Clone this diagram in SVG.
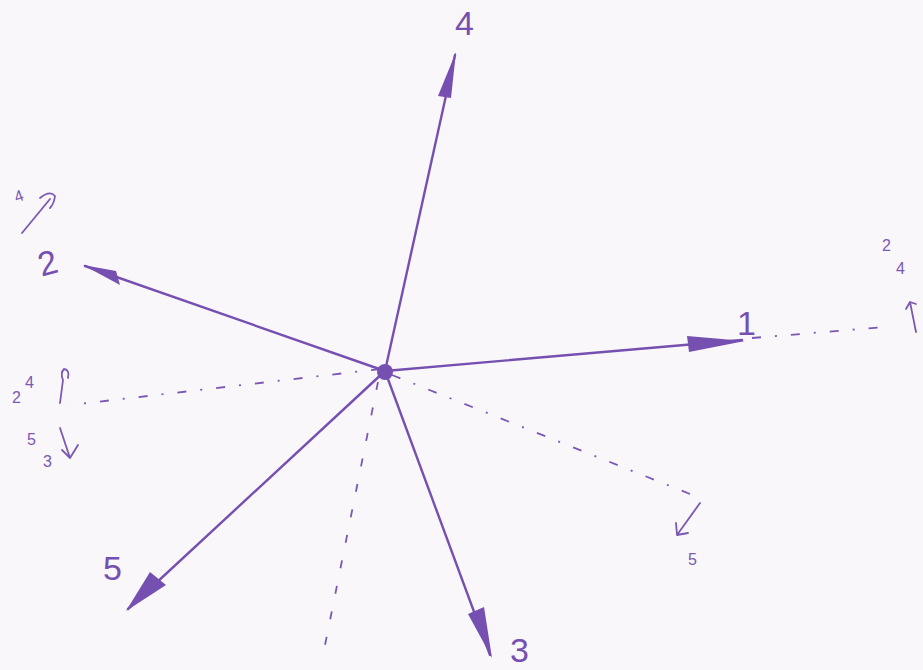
<svg xmlns="http://www.w3.org/2000/svg" width="923" height="670" viewBox="0 0 923 670">
<style>
.ln{stroke:#7650b0;stroke-width:2.4;fill:none;stroke-linecap:round}
.dash{stroke:#7a58b4;stroke-width:1.8;fill:none;stroke-dasharray:9 14 2 14}
.dash2{stroke:#7a58b4;stroke-width:1.8;fill:none;stroke-dasharray:8 18}
.ann{stroke:#7a58b4;stroke-width:1.8;fill:none;stroke-linecap:round;stroke-linejoin:round}
.head{fill:#7650b0}
.lbl{font-family:"Liberation Sans",sans-serif;fill:#7650b0;font-size:34px}
.sm{font-family:"Liberation Sans",sans-serif;fill:#7a58b4;font-size:16px}
</style>
<rect width="923" height="670" fill="#faf7fb"/>
<g id="connectors">
<path class="dash" d="M752 338 L885 327"/>
<path class="dash" d="M380 369 L70 405"/>
<path class="dash2" d="M378 382 L323 655"/>
<path class="dash" d="M392 375 L690 494"/>
<path class="ln" d="M385 371 L742 340"/>
<path class="ln" d="M385 371 L85 266"/>
<path class="ln" d="M385 371 L490 655"/>
<path class="ln" d="M385 371 L455 55"/>
<path class="ln" d="M385 371 L128 609"/>
<polygon class="head" points="687,336 689,352 745,341"/>
<polygon class="head" points="83,265 116,271 120,285"/>
<polygon class="head" points="492,658 468,614 484,607"/>
<polygon class="head" points="456,52 438,96 451,98"/>
<polygon class="head" points="126,611 150,572 166,585"/>
</g>
<g id="center"><circle cx="385" cy="372" r="8" fill="#7650b0"/></g>
<g id="n1"><text class="lbl" x="737" y="335">1</text></g>
<g id="n2"><text class="lbl" x="38" y="274" transform="rotate(-15 50 262)">2</text></g>
<g id="n3"><text class="lbl" x="510" y="662">3</text></g>
<g id="n4"><text class="lbl" x="455" y="35">4</text></g>
<g id="n5"><text class="lbl" x="103" y="580">5</text></g>
<g id="ann-topleft">
<text class="sm" x="14" y="201" transform="rotate(-20 20 195)">4</text>
<path class="ann" d="M22 233 L50 199 M40 198 Q50 190 55 196 Q54 204 50 208"/>
</g>
<g id="ann-left">
<text class="sm" x="25" y="388">4</text>
<text class="sm" x="12" y="403">2</text>
<path class="ann" d="M60 403 L63 380 Q60 373 64 369 Q70 370 68 378"/>
<text class="sm" x="27" y="445">5</text>
<text class="sm" x="43" y="467">3</text>
<path class="ann" d="M60 428 L70 458 M62 450 L70 458 L78 445"/>
</g>
<g id="ann-right">
<text class="sm" x="882" y="251">2</text>
<text class="sm" x="896" y="274">4</text>
<path class="ann" d="M916 332 L910 302 L906 309 M910 302 L916 304"/>
</g>
<g id="ann-lowright">
<path class="ann" d="M700 503 L677 535 M676 523 L677 535 L688 533"/>
<text class="sm" x="688" y="565">5</text>
</g>
</svg>
